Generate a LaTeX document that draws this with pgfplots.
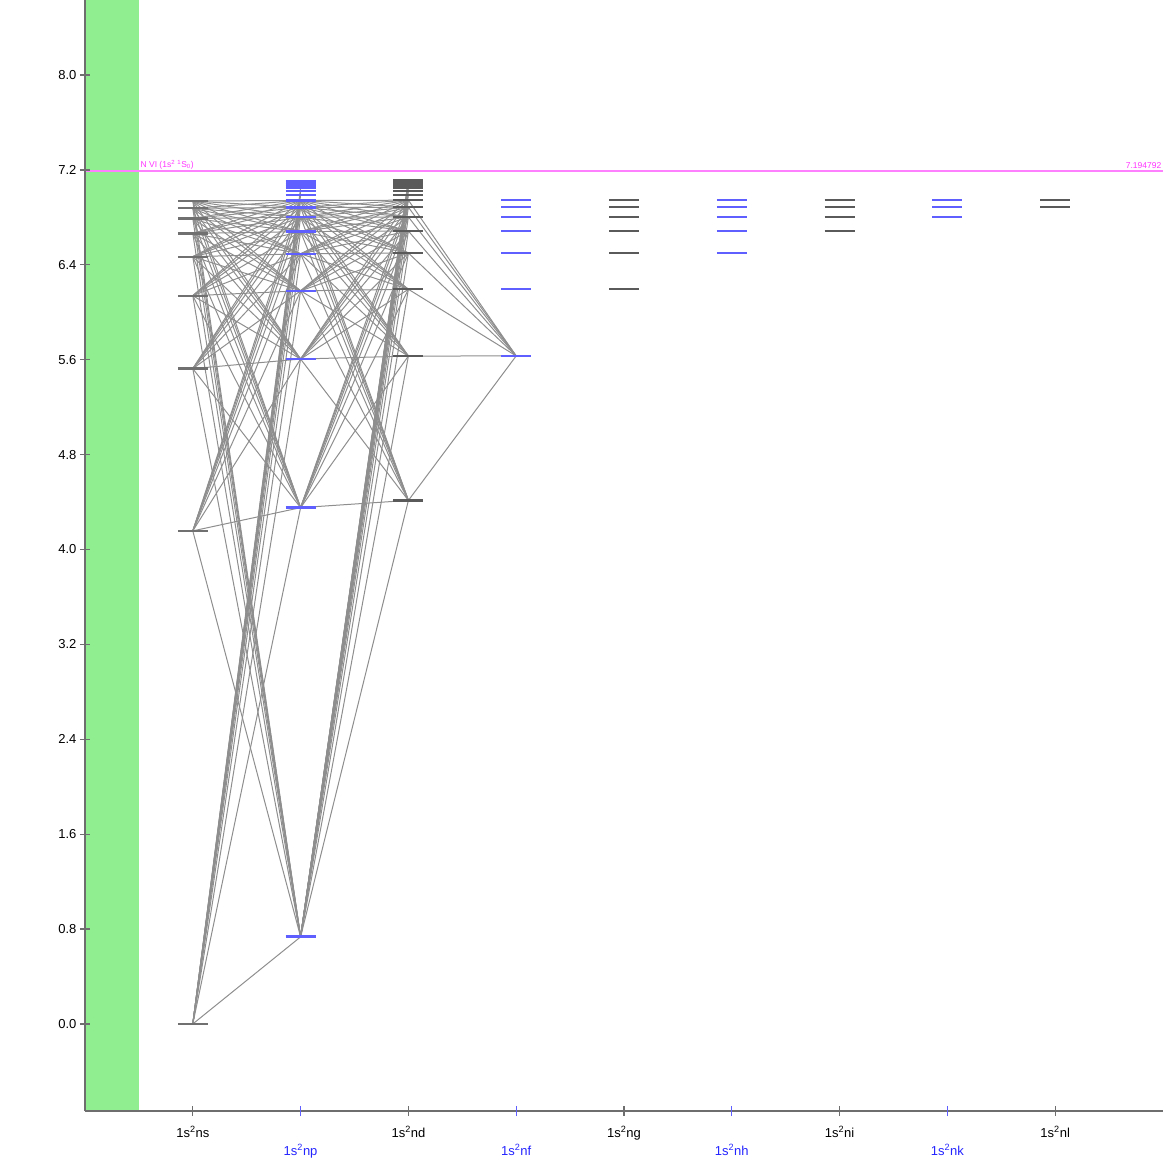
\documentclass[border=0pt]{standalone}
\usepackage{fontspec}
\setmainfont{Liberation Sans}
\usepackage{pgfplots}
\pgfplotsset{compat=1.18}
\definecolor{lvgray}{HTML}{5A5A5A}
\definecolor{lvsgray}{HTML}{707070}
\definecolor{lvblue}{HTML}{5F5FFF}
\definecolor{trgray}{HTML}{8E8E8E}
\definecolor{axgray}{HTML}{6E6E6E}
\definecolor{band}{HTML}{90EE90}
\definecolor{limline}{HTML}{FF80FF}
\definecolor{limtext}{HTML}{FF33FF}
\definecolor{lblblue}{HTML}{2424FF}

\begin{document}
\begin{tikzpicture}
\begin{axis}[
  scale only axis, width=1078pt, height=1111pt,
  xmin=0, xmax=10, ymin=-0.734, ymax=8.633,
  axis x line=bottom, axis y line=left, axis on top,
  axis line style={draw=axgray, line width=1.6pt, -},
  tick align=center, major tick length=10pt,
  major tick style={draw=axgray, line width=1.3pt},
  ytick={0,0.8,...,8.0},
  /pgf/number format/fixed, /pgf/number format/fixed zerofill,
  /pgf/number format/precision=1, /pgf/number format/assume math mode=true,
  tick label style={font=\fontsize{13}{15}\selectfont},
  xticklabel style={yshift=-7pt},
  xtick={1,3,5,7,9},
  xticklabels={1s\textsuperscript{2}ns,1s\textsuperscript{2}nd,1s\textsuperscript{2}ng,1s\textsuperscript{2}ni,1s\textsuperscript{2}nl},
  extra x ticks={2,4,6,8},
  extra x tick labels={1s\textsuperscript{2}np,1s\textsuperscript{2}nf,1s\textsuperscript{2}nh,1s\textsuperscript{2}nk},
  extra x tick style={major tick style={draw=lvblue, line width=1.3pt},
    xticklabel style={text=lblblue, yshift=-18pt}},
]
% band at the left
\addplot[fill=band, draw=none] coordinates {(0,-0.734) (0,8.633) (0.5,8.633) (0.5,-0.734)} -- cycle;

% ns - np transitions
\addplot[trgray, line width=1pt, quiver={u=1, v=\thisrow{r}-\thisrow{l}}]
  table[row sep=\\, x expr=1, y=l] {
l r\\
0 0.734\\ 0 4.353\\ 0 5.606\\ 0 6.181\\ 0 6.493\\ 0 6.680\\ 0 6.801\\ 0 6.884\\ 0 6.943\\ 0 6.987\\ 0 7.020\\ 0 7.046\\
4.157 0.734\\ 5.525 0.734\\ 6.140 0.734\\ 6.469 0.734\\ 6.665 0.734\\ 6.791 0.734\\ 6.877 0.734\\ 6.938 0.734\\
4.157 4.353\\ 4.157 5.606\\ 4.157 6.181\\ 4.157 6.493\\ 4.157 6.680\\ 4.157 6.801\\ 4.157 6.884\\ 4.157 6.943\\
5.525 4.353\\ 5.525 5.606\\ 5.525 6.181\\ 5.525 6.493\\ 5.525 6.680\\ 5.525 6.801\\ 5.525 6.884\\ 5.525 6.943\\
6.140 4.353\\ 6.140 5.606\\ 6.140 6.181\\ 6.140 6.493\\ 6.140 6.680\\ 6.140 6.801\\ 6.140 6.884\\ 6.140 6.943\\
6.469 4.353\\ 6.469 5.606\\ 6.469 6.181\\ 6.469 6.493\\ 6.469 6.680\\ 6.469 6.801\\ 6.469 6.884\\ 6.469 6.943\\
6.665 4.353\\ 6.665 5.606\\ 6.665 6.181\\ 6.665 6.493\\ 6.665 6.680\\ 6.665 6.801\\ 6.665 6.884\\ 6.665 6.943\\
6.791 4.353\\ 6.791 5.606\\ 6.791 6.181\\ 6.791 6.493\\ 6.791 6.680\\ 6.791 6.801\\ 6.791 6.884\\ 6.791 6.943\\
6.877 4.353\\ 6.877 5.606\\ 6.877 6.181\\ 6.877 6.493\\ 6.877 6.680\\ 6.877 6.801\\ 6.877 6.884\\ 6.877 6.943\\
6.938 4.353\\ 6.938 5.606\\ 6.938 6.181\\ 6.938 6.493\\ 6.938 6.680\\ 6.938 6.801\\ 6.938 6.884\\ 6.938 6.943\\
};
% np - nd transitions
\addplot[trgray, line width=1pt, quiver={u=1, v=\thisrow{r}-\thisrow{l}}]
  table[row sep=\\, x expr=2, y=l] {
l r\\
0.734 4.414\\ 0.734 5.631\\ 0.734 6.194\\ 0.734 6.500\\ 0.734 6.685\\ 0.734 6.804\\ 0.734 6.886\\ 0.734 6.945\\
0.734 6.988\\ 0.734 7.021\\ 0.734 7.047\\ 0.734 7.067\\ 0.734 7.084\\ 0.734 7.097\\ 0.734 7.108\\ 0.734 7.118\\
4.353 4.414\\ 4.353 5.631\\ 4.353 6.194\\ 4.353 6.500\\ 4.353 6.685\\ 4.353 6.804\\ 4.353 6.886\\ 4.353 6.945\\
5.606 4.414\\ 5.606 5.631\\ 5.606 6.194\\ 5.606 6.500\\ 5.606 6.685\\ 5.606 6.804\\ 5.606 6.886\\ 5.606 6.945\\
6.181 4.414\\ 6.181 5.631\\ 6.181 6.194\\ 6.181 6.500\\ 6.181 6.685\\ 6.181 6.804\\ 6.181 6.886\\ 6.181 6.945\\
6.493 4.414\\ 6.493 5.631\\ 6.493 6.194\\ 6.493 6.500\\ 6.493 6.685\\ 6.493 6.804\\ 6.493 6.886\\ 6.493 6.945\\
6.680 4.414\\ 6.680 5.631\\ 6.680 6.194\\ 6.680 6.500\\ 6.680 6.685\\ 6.680 6.804\\ 6.680 6.886\\ 6.680 6.945\\
6.801 4.414\\ 6.801 5.631\\ 6.801 6.194\\ 6.801 6.500\\ 6.801 6.685\\ 6.801 6.804\\ 6.801 6.886\\ 6.801 6.945\\
6.884 4.414\\ 6.884 5.631\\ 6.884 6.194\\ 6.884 6.500\\ 6.884 6.685\\ 6.884 6.804\\ 6.884 6.886\\ 6.884 6.945\\
6.943 4.414\\ 6.943 5.631\\ 6.943 6.194\\ 6.943 6.500\\ 6.943 6.685\\ 6.943 6.804\\ 6.943 6.886\\ 6.943 6.945\\
};
% nd - 4f transitions
\addplot[trgray, line width=1pt, quiver={u=1, v=\thisrow{r}-\thisrow{l}}]
  table[row sep=\\, x expr=3, y=l] {
l r\\
4.414 5.632\\ 5.631 5.632\\ 6.194 5.632\\ 6.500 5.632\\ 6.685 5.632\\ 6.804 5.632\\ 6.886 5.632\\ 6.945 5.632\\
};

% levels
\addplot[lvsgray, line width=2.3pt, quiver={u=0.278, v=0}]
  table[row sep=\\, x expr=\thisrow{c}-0.139, y=E] {
c E\\
1 0\\ 1 4.157\\ 1 5.525\\ 1 6.140\\ 1 6.469\\ 1 6.665\\ 1 6.791\\ 1 6.877\\ 1 6.938\\
};
\addplot[lvgray, line width=2.3pt, quiver={u=0.278, v=0}]
  table[row sep=\\, x expr=\thisrow{c}-0.139, y=E] {
c E\\
3 4.414\\ 3 5.631\\ 3 6.194\\ 3 6.500\\ 3 6.685\\ 3 6.804\\ 3 6.886\\ 3 6.945\\
3 6.988\\ 3 7.021\\ 3 7.047\\ 3 7.067\\ 3 7.084\\ 3 7.097\\ 3 7.108\\ 3 7.118\\
5 6.195\\ 5 6.500\\ 5 6.685\\ 5 6.804\\ 5 6.886\\ 5 6.945\\
7 6.685\\ 7 6.804\\ 7 6.886\\ 7 6.945\\
9 6.886\\ 9 6.945\\
};
\addplot[lvblue, line width=2.3pt, quiver={u=0.278, v=0}]
  table[row sep=\\, x expr=\thisrow{c}-0.139, y=E] {
c E\\
2 0.733\\ 2 0.736\\ 2 4.353\\ 2 5.606\\ 2 6.181\\ 2 6.493\\ 2 6.680\\ 2 6.801\\ 2 6.884\\
2 6.943\\ 2 6.987\\ 2 7.020\\ 2 7.046\\ 2 7.067\\ 2 7.083\\ 2 7.097\\ 2 7.108\\
4 5.632\\ 4 6.195\\ 4 6.500\\ 4 6.685\\ 4 6.804\\ 4 6.886\\ 4 6.945\\
6 6.500\\ 6 6.685\\ 6 6.804\\ 6 6.886\\ 6 6.945\\
8 6.804\\ 8 6.886\\ 8 6.945\\
};

% ionization limit
\addplot[limline, line width=2pt] coordinates {(0,7.194792) (10,7.194792)};
\node[anchor=south west, text=limtext, font=\fontsize{8.5}{10}\selectfont, inner sep=1.5pt]
  at (axis cs:0.5,7.194792) {N VI (1s\textsuperscript{2} \textsuperscript{1}S\textsubscript{0})};
\node[anchor=south east, text=limtext, font=\fontsize{8.5}{10}\selectfont, inner sep=1.5pt]
  at (axis cs:10,7.194792) {7.194792};
\end{axis}
\pgfresetboundingbox
\path (current axis.south west) ++(-85pt,-55pt) rectangle ++(1166pt,1166pt);
\end{tikzpicture}
\end{document}
